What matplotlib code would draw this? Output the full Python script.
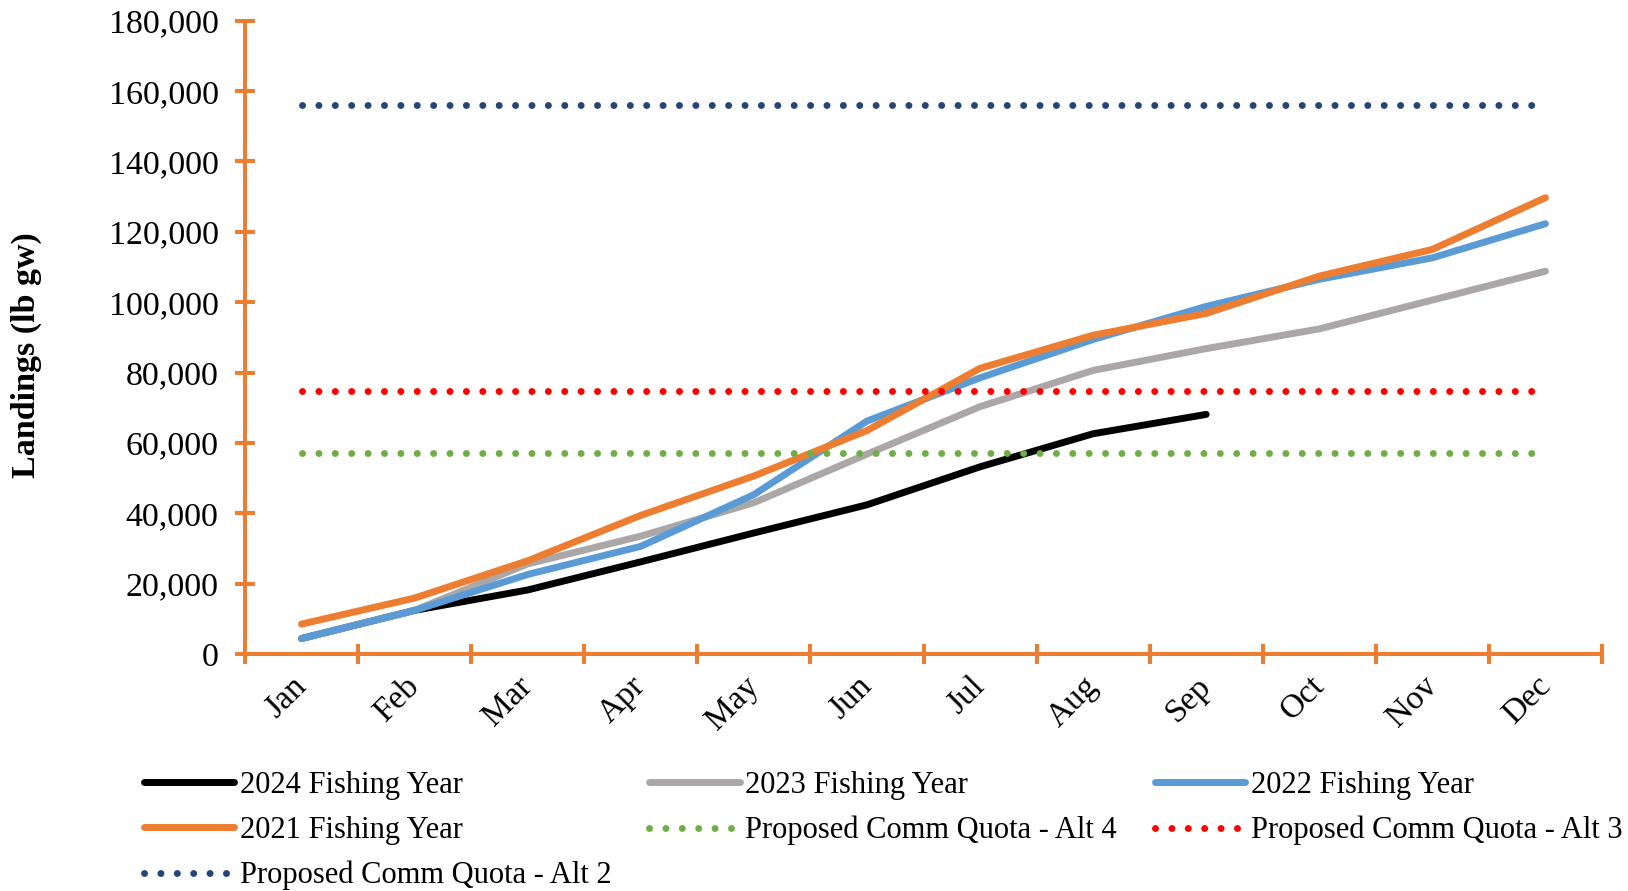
import matplotlib
matplotlib.use("Agg")
import matplotlib.pyplot as plt
import matplotlib.transforms as mtransforms
from matplotlib.ticker import FixedLocator, NullFormatter, FuncFormatter

months = ["Jan", "Feb", "Mar", "Apr", "May", "Jun", "Jul", "Aug", "Sep", "Oct", "Nov", "Dec"]
fy2024 = [4400, 12400, 18200, 26200, 34400, 42400, 53200, 62600, 68100]
fy2023 = [4400, 12400, 25600, 33500, 43000, 56800, 70300, 80600, 86800, 92400, 100600, 108800]
fy2022 = [4400, 12400, 22600, 30600, 45300, 66200, 78500, 89400, 98800, 106500, 112600, 122300]
fy2021 = [8500, 15900, 26500, 39400, 50600, 63500, 81200, 90600, 96800, 107400, 115000, 129700]
quota_alt4 = 57100
quota_alt3 = 74800
quota_alt2 = 155900

series_labels = ["2024 Fishing Year", "2023 Fishing Year", "2022 Fishing Year", "2021 Fishing Year",
                 "Proposed Comm Quota - Alt 4", "Proposed Comm Quota - Alt 3", "Proposed Comm Quota - Alt 2"]

plt.rcParams['font.family'] = ['Liberation Serif', 'DejaVu Serif']

W, H = 1628, 891
fig = plt.figure(figsize=(W / 100, H / 100), dpi=100)
ax_l, ax_r, ax_t, ax_b = 245, 1602, 20.7, 654
ax = fig.add_axes([ax_l / W, 1 - ax_b / H, (ax_r - ax_l) / W, (ax_b - ax_t) / H])

x_all = [i + 0.5 for i in range(len(months))]
lw = 5.0
h = []
h += ax.plot(x_all[:len(fy2024)], fy2024, color="black", lw=lw, solid_capstyle="round", solid_joinstyle="round")
h += ax.plot(x_all, fy2023, color="#ABA7A7", lw=lw, solid_capstyle="round", solid_joinstyle="round")
h += ax.plot(x_all, fy2022, color="#5B9BD5", lw=lw, solid_capstyle="round", solid_joinstyle="round")
h += ax.plot(x_all, fy2021, color="#ED7D31", lw=lw, solid_capstyle="round", solid_joinstyle="round")
dot_ls = (0, (0.01, 2.35))
qlw = 5.0
h += ax.plot([x_all[0], x_all[-1]], [quota_alt4] * 2, color="#70AD47", lw=qlw, ls=dot_ls, dash_capstyle="round")
h += ax.plot([x_all[0], x_all[-1]], [quota_alt3] * 2, color="#FF0000", lw=qlw, ls=dot_ls, dash_capstyle="round")
h += ax.plot([x_all[0], x_all[-1]], [quota_alt2] * 2, color="#264478", lw=qlw, ls=dot_ls, dash_capstyle="round")

ax.set_xlim(0, 12)
ax.set_ylim(0, 180000)
ax.spines["top"].set_visible(False)
ax.spines["right"].set_visible(False)
for s in ("left", "bottom"):
    ax.spines[s].set_color("#ED7D31")
    ax.spines[s].set_linewidth(2.9)
    ax.spines[s].set_capstyle("butt")

ax.set_yticks(range(0, 180001, 20000))
ax.yaxis.set_major_formatter(FuncFormatter(lambda v, p: f"{int(v):,}"))
ax.tick_params(axis="y", which="major", direction="inout", length=14, width=2.9, color="#ED7D31",
               labelsize=24.5, pad=12, labelcolor="black")

ax.xaxis.set_major_locator(FixedLocator(list(range(13))))
ax.xaxis.set_major_formatter(NullFormatter())
ax.xaxis.set_minor_locator(FixedLocator(x_all))
ax.set_xticklabels(months, minor=True)
ax.tick_params(axis="x", which="major", direction="inout", length=14, width=2.9, color="#ED7D31")
ax.tick_params(axis="x", which="minor", length=0, labelsize=24, pad=12, labelcolor="black")
offset = mtransforms.ScaledTranslation(11 / 100, 0, fig.dpi_scale_trans)
for lab in ax.get_xticklabels(minor=True):
    lab.set_rotation(45)
    lab.set_ha("right")
    lab.set_va("top")
    lab.set_transform(lab.get_transform() + offset)

fig.text(26 / W, 1 - 355 / H, "Landings (lb gw)", rotation=90, ha="center", va="center",
         fontsize=24.5, fontweight="bold")

order = [0, 3, 6, 1, 4, 2, 5]
leg = fig.legend([h[i] for i in order], [series_labels[i] for i in order], ncol=3,
                 loc="upper left", bbox_to_anchor=(144 / W, 1 - 771 / H), frameon=False,
                 fontsize=22, handlelength=2.95, handletextpad=0.18, columnspacing=1.25,
                 labelspacing=0.52, borderpad=0, borderaxespad=0)

fig.savefig("out.png", dpi=100, facecolor="white")
